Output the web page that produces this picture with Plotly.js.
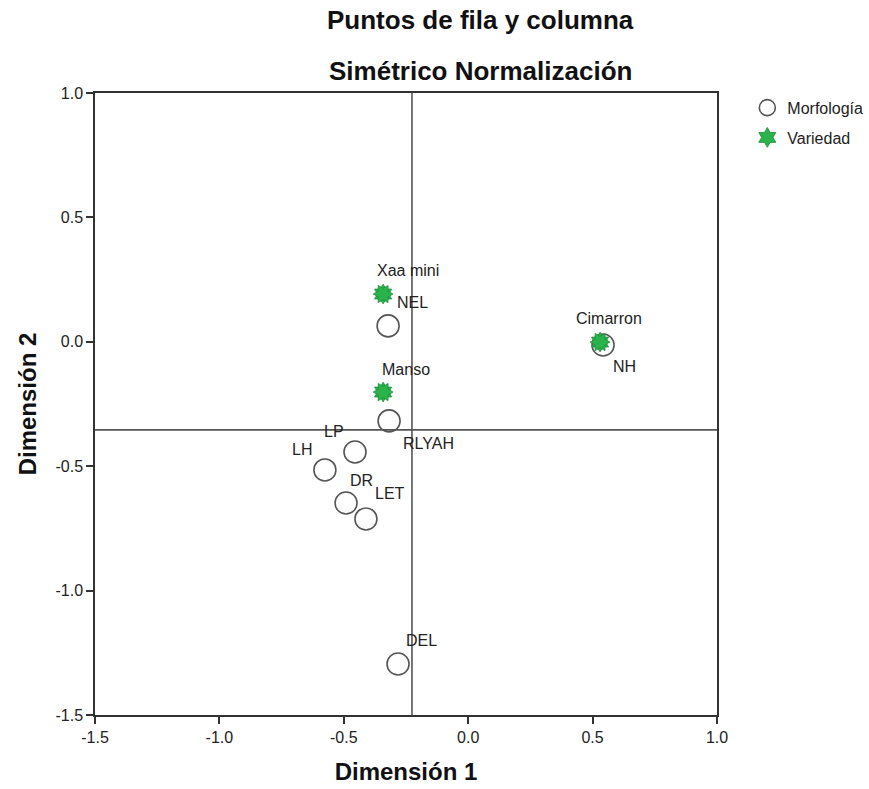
<!DOCTYPE html>
<html><head><meta charset="utf-8">
<script src="https://cdn.plot.ly/plotly-3.0.1.min.js"></script>
<style>body{margin:0;background:#fff}#c{width:869px;height:789px}</style>
</head><body><div id="c"></div>
<script>
// Data
const morfLabels = ["NEL","NH","RLYAH","LP","LH","DR","LET","DEL"];
const morfX = [-0.322, 0.542, -0.318, -0.455, -0.576, -0.491, -0.411, -0.282];
const morfY = [0.064, -0.013, -0.318, -0.443, -0.515, -0.648, -0.712, -1.295];
const varLabels = ["Xaa mini","Cimarron","Manso"];
const varX = [-0.342, 0.530, -0.342];
const varY = [0.192, -0.001, -0.202];
const refX = [-0.226];
const refY = [-0.354];
const tickVals = [-1.5, -1.0, -0.5, 0.0, 0.5, 1.0];
const tickText = ["-1.5","-1.0","-0.5","0.0","0.5","1.0"];

// label offsets (px)
const morfOff = [[24,23],[21,-21],[39,-23],[-21,21],[-23,20],[15,23],[24,25],[23,24]];
const varOff = [[25,24],[9,24],[23,23]];

const FONT = "Liberation Sans, Arial, sans-serif";
const green = "#2bb34b";

const starMarker = (angle)=>({symbol:"hexagram", angle:angle, size:15, color:green, line:{color:"#1e8f3a", width:0.8}});
const traces = [
  {type:"scatter", mode:"markers", name:"Morfología", legendgroup:"m", x:morfX, y:morfY,
   marker:{symbol:"circle", size:22, color:"rgba(255,255,255,0)", line:{color:"#555", width:1.6}}},
  {type:"scatter", mode:"markers", name:"Variedad", legendgroup:"v", x:varX, y:varY, marker:starMarker(0)},
  {type:"scatter", mode:"markers", name:"Variedad", legendgroup:"v", showlegend:false, x:varX, y:varY, marker:starMarker(30)}
];

const ann = [];
morfLabels.forEach((t,i)=>ann.push({x:morfX[i], y:morfY[i], xref:"x", yref:"y", text:t, showarrow:false,
  xshift:morfOff[i][0], yshift:morfOff[i][1], font:{family:FONT, size:16, color:"#222"}}));
varLabels.forEach((t,i)=>ann.push({x:varX[i], y:varY[i], xref:"x", yref:"y", text:t, showarrow:false,
  xshift:varOff[i][0], yshift:varOff[i][1], font:{family:FONT, size:16, color:"#222"}}));
ann.push({xref:"paper", yref:"paper", x:0.62, y:1, yshift:73, text:"<b>Puntos de fila y columna</b>", showarrow:false,
  xanchor:"center", yanchor:"middle", font:{family:FONT, size:26, color:"#111"}});
ann.push({xref:"paper", yref:"paper", x:0.62, y:1, yshift:22, text:"<b>Simétrico Normalización</b>", showarrow:false,
  xanchor:"center", yanchor:"middle", font:{family:FONT, size:26, color:"#111"}});

const layout = {
  width:869, height:789,
  margin:{l:95, r:152, t:93, b:74},
  paper_bgcolor:"#fff", plot_bgcolor:"#fff",
  showlegend:true,
  legend:{xref:"container", yref:"container", x:0.86, y:0.885, xanchor:"left", yanchor:"top",
          font:{family:FONT, size:16, color:"#222"}, bgcolor:"rgba(0,0,0,0)", itemsizing:"trace",
          traceorder:"grouped", tracegroupgap:6},
  xaxis:{range:[-1.5,1.0], tickvals:tickVals, ticktext:tickText, showgrid:false, zeroline:false,
         showline:true, mirror:true, linecolor:"#333", linewidth:1.5, ticks:"outside", ticklen:7,
         tickcolor:"#333", tickwidth:1.5, tickfont:{family:FONT, size:16, color:"#222"},
         title:{text:"<b>Dimensión 1</b>", font:{family:FONT, size:24, color:"#111"}, standoff:18}},
  yaxis:{range:[-1.5,1.0], tickvals:tickVals, ticktext:tickText, showgrid:false, zeroline:false,
         showline:true, mirror:true, linecolor:"#333", linewidth:1.5, ticks:"outside", ticklen:7,
         tickcolor:"#333", tickwidth:1.5, tickfont:{family:FONT, size:16, color:"#222"},
         title:{text:"<b>Dimensión 2</b>", font:{family:FONT, size:24, color:"#111"}, standoff:12}},
  shapes:[
    {type:"line", xref:"x", yref:"paper", x0:refX[0], x1:refX[0], y0:0, y1:1, line:{color:"#555", width:1.6}, layer:"below"},
    {type:"line", xref:"paper", yref:"y", x0:0, x1:1, y0:refY[0], y1:refY[0], line:{color:"#555", width:1.6}, layer:"below"}
  ],
  annotations:ann
};
Plotly.newPlot("c", traces, layout, {displayModeBar:false});
</script></body></html>
